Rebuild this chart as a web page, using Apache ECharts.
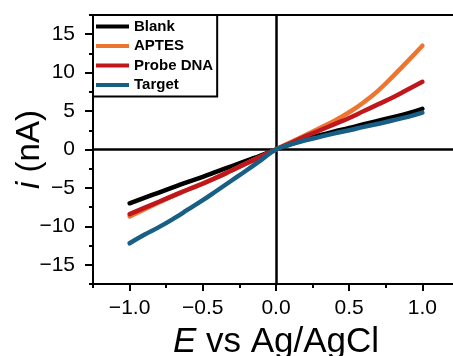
<!DOCTYPE html>
<html>
<head>
<meta charset="utf-8">
<script src="https://cdn.jsdelivr.net/npm/echarts@6/dist/echarts.min.js"></script>
<style>
  html, body { margin: 0; padding: 0; background: #fff; }
  #chart { width: 453px; height: 356px; }
</style>
</head>
<body>
<div id="chart"></div>
<script>
'use strict';

// potential, V vs Ag/AgCl
var potential = [-1.0, -0.9, -0.8, -0.7, -0.6, -0.5, -0.4, -0.3, -0.2, -0.1, 0.0,
  0.1, 0.2, 0.3, 0.4, 0.5, 0.6, 0.7, 0.8, 0.9, 1.0];

// current, nA
var blank = [-7.0, -6.3, -5.6, -4.9, -4.2, -3.55, -2.85, -2.15, -1.45, -0.75, 0,
  0.7, 1.3, 1.85, 2.35, 2.8, 3.3, 3.75, 4.2, 4.7, 5.3];
var aptes = [-8.7, -7.8, -6.9, -6.0, -5.2, -4.4, -3.6, -2.7, -1.8, -0.9, 0,
  0.95, 1.85, 2.8, 3.75, 4.85, 6.15, 7.7, 9.55, 11.5, 13.5];
var probe = [-8.4, -7.6, -6.8, -6.0, -5.2, -4.45, -3.6, -2.7, -1.8, -0.9, 0,
  0.85, 1.7, 2.5, 3.3, 4.1, 5.0, 5.9, 6.8, 7.8, 8.8];
var target = [-12.2, -11.1, -10.1, -9.0, -7.8, -6.6, -5.3, -4.0, -2.7, -1.35, 0,
  0.65, 1.2, 1.65, 2.1, 2.5, 2.95, 3.35, 3.8, 4.25, 4.8];

var seriesNames = ['Blank', 'APTES', 'Probe DNA', 'Target'];
var seriesData = [blank, aptes, probe, target];
var seriesColors = ['#000000', '#ED7530', '#C0171D', '#185F85'];

var xTicks = [-1.0, -0.5, 0.0, 0.5, 1.0];
var yTicks = [-15, -10, -5, 0, 5, 10, 15];

var FONT = 'Liberation Sans, Arial, sans-serif';

function minus(v, digits) {
  return v.toFixed(digits).replace('-', '\u2212');
}

var chart = echarts.init(document.getElementById('chart'));

var series = seriesNames.map(function (name, k) {
  return {
    name: name,
    type: 'line',
    xAxisIndex: 0,
    yAxisIndex: 0,
    data: potential.map(function (e, i) { return [e, seriesData[k][i]]; }),
    smooth: true,
    showSymbol: false,
    symbol: 'none',
    lineStyle: { color: seriesColors[k], width: 4.5, cap: 'round' },
    itemStyle: { color: seriesColors[k] },
    z: 3 + k
  };
});

// zero lines
series[0].markLine = {
  silent: true,
  symbol: 'none',
  label: { show: false },
  lineStyle: { color: '#000', width: 2.5, type: 'solid' },
  data: [{ xAxis: 0 }, { yAxis: 0 }],
  z: 1
};

var option = {
  animation: false,
  textStyle: { fontFamily: FONT },
  grid: {
    left: 93, top: 15, right: -6, bottom: 72,
    containLabel: false,
    outerBoundsMode: 'none',
    show: true, borderColor: '#000', borderWidth: 2
  },
  legend: {
    orient: 'vertical',
    left: 93, top: 15,
    padding: [4, 4, 4, 3],
    itemGap: 4.5,
    itemWidth: 33, itemHeight: 4,
    icon: 'rect',
    backgroundColor: '#fff',
    borderColor: '#000', borderWidth: 2, borderRadius: 0,
    textStyle: { fontFamily: FONT, fontWeight: 'bold', fontSize: 15, color: '#000', lineHeight: 15 },
    data: seriesNames,
    z: 10
  },
  xAxis: [{
    type: 'value', min: -1.25, max: 1.25, position: 'bottom',
    name: '{i|E} vs Ag/AgCl', nameLocation: 'middle', nameGap: 41,
    nameMoveOverlap: false,
    nameTextStyle: {
      fontFamily: FONT, fontSize: 35, color: '#000',
      rich: { i: { fontFamily: FONT, fontSize: 35, fontStyle: 'italic', color: '#000' } }
    },
    axisLine: { show: true, onZero: false, lineStyle: { color: '#000', width: 2 } },
    axisTick: { show: true, inside: false, length: 7, lineStyle: { color: '#000', width: 2 }, customValues: xTicks },
    axisLabel: { fontSize: 21, color: '#000', margin: 14, customValues: xTicks, formatter: function (v) { return minus(v, 1); } },
    splitLine: { show: false }
  }, {
    type: 'value', min: -1.25, max: 1.25, interval: 0.25, position: 'bottom',
    axisLine: { show: false, onZero: false },
    axisTick: { show: true, inside: false, length: 4, lineStyle: { color: '#000', width: 2 } },
    axisLabel: { show: false },
    splitLine: { show: false }
  }],
  yAxis: [{
    type: 'value', min: -17.5, max: 17.5, position: 'left',
    name: '{i|i} (nA)', nameLocation: 'middle', nameGap: 47, nameRotate: 90,
    nameMoveOverlap: false,
    nameTextStyle: {
      fontFamily: FONT, fontSize: 33, color: '#000',
      rich: { i: { fontFamily: FONT, fontSize: 33, fontStyle: 'italic', color: '#000' } }
    },
    axisLine: { show: true, onZero: false, lineStyle: { color: '#000', width: 2 } },
    axisTick: { show: true, inside: false, length: 8, lineStyle: { color: '#000', width: 2 }, customValues: yTicks },
    axisLabel: { fontSize: 21, color: '#000', margin: 18, customValues: yTicks, formatter: function (v) { return minus(v, 0); } },
    splitLine: { show: false }
  }, {
    type: 'value', min: -17.5, max: 17.5, interval: 2.5, position: 'left',
    axisLine: { show: false, onZero: false },
    axisTick: { show: true, inside: false, length: 4, lineStyle: { color: '#000', width: 2 } },
    axisLabel: { show: false },
    splitLine: { show: false }
  }],
  series: series
};

chart.setOption(option);
</script>
</body>
</html>
